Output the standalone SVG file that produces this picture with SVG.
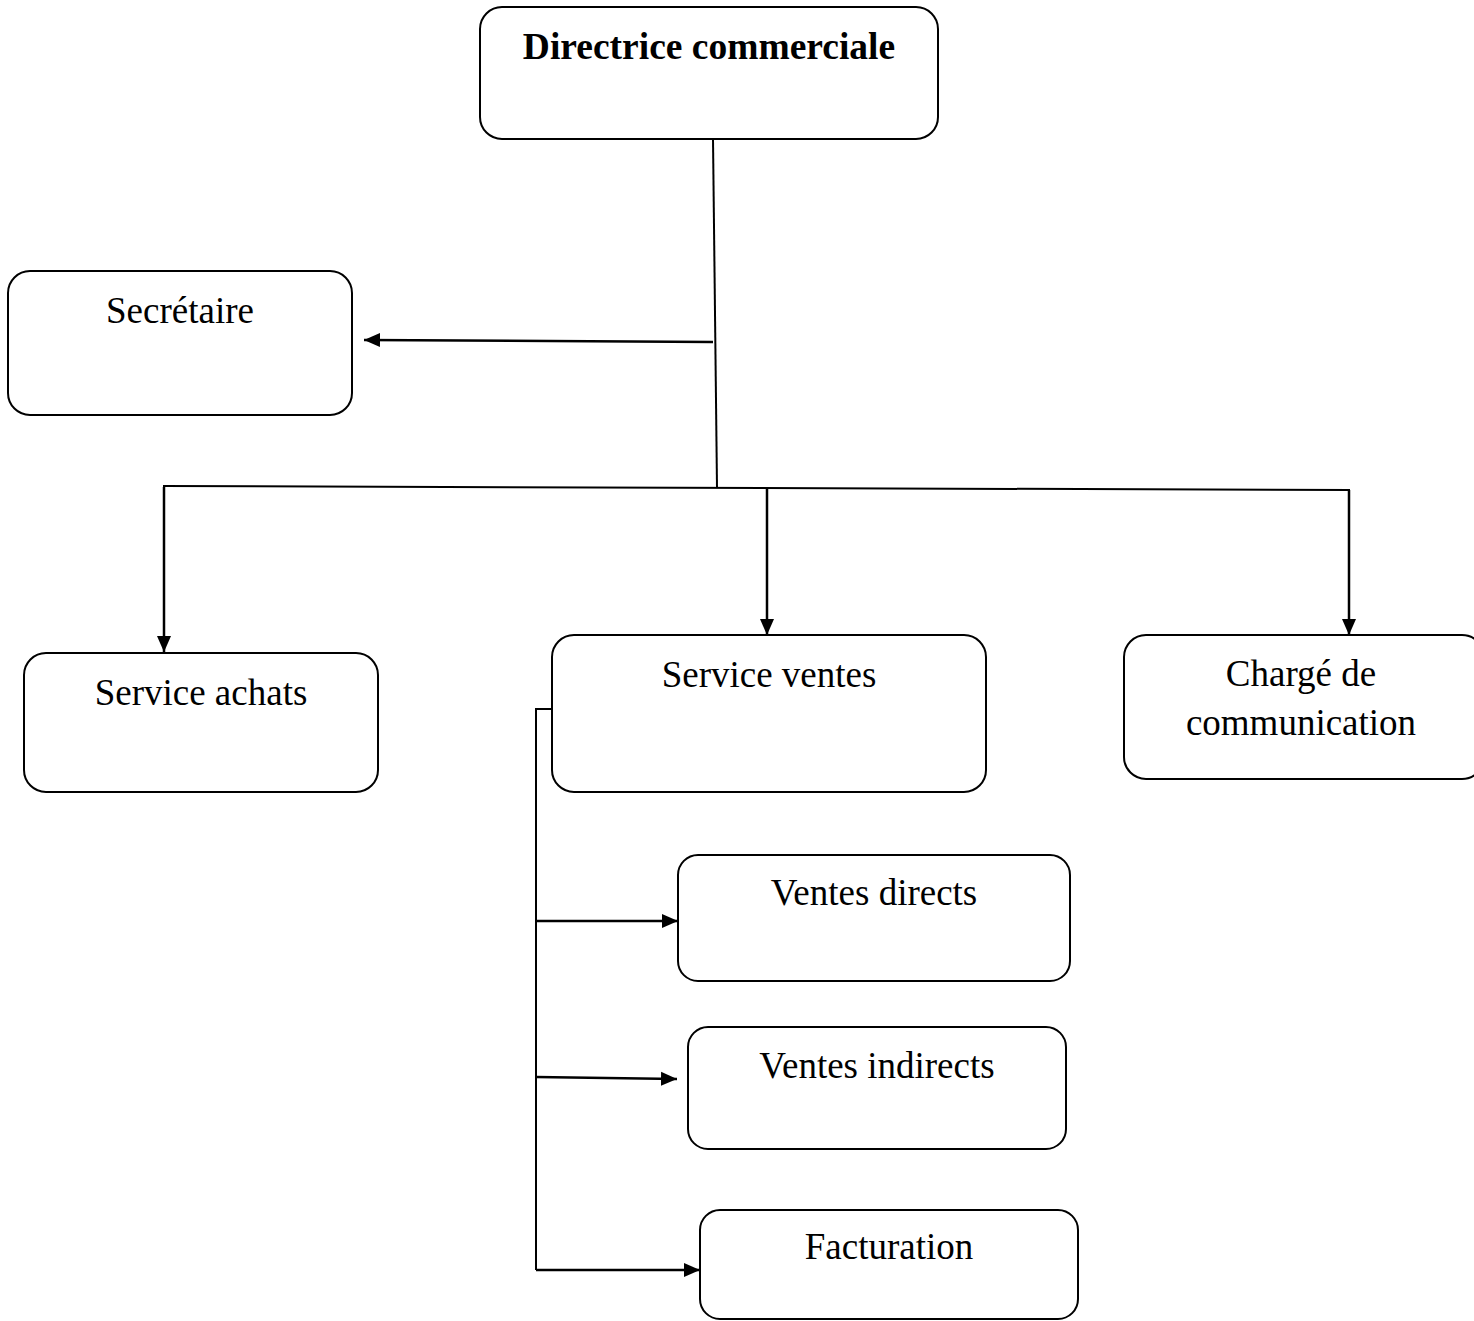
<svg xmlns="http://www.w3.org/2000/svg" width="1474" height="1321" viewBox="0 0 1474 1321">
<style>
.box{fill:#fff;stroke:#000;stroke-width:2}
.t{font-family:"Liberation Serif","Times New Roman",serif;font-size:37px;fill:#000;text-anchor:middle}
.b{font-weight:bold;font-size:37.5px}
.ln{fill:none;stroke:#000;stroke-width:2}
.ar{fill:none;stroke:#000;stroke-width:2.5;marker-end:url(#ah)}
</style>
<defs>
<marker id="ah" markerUnits="userSpaceOnUse" markerWidth="18" markerHeight="16" refX="16" refY="8" orient="auto">
<path d="M0,1 L16,8 L0,15 z" fill="#000"/>
</marker>
</defs>
<rect width="1474" height="1321" fill="#fff"/>
<g id="connectors">
<line class="ln" x1="713" y1="139" x2="717" y2="487"/>
<line class="ar" x1="713" y1="342" x2="364" y2="340"/>
<line class="ln" x1="163" y1="486" x2="1350" y2="490"/>
<line class="ar" x1="164" y1="487" x2="164" y2="652"/>
<line class="ar" x1="767" y1="489" x2="767" y2="635"/>
<line class="ar" x1="1349" y1="490" x2="1349" y2="635"/>
<polyline class="ln" points="552,709 536,709 536,1270"/>
<line class="ar" x1="536" y1="921" x2="678" y2="921"/>
<line class="ar" x1="536" y1="1077" x2="677" y2="1079"/>
<line class="ar" x1="536" y1="1270" x2="700" y2="1270"/>
</g>
<g id="n-directrice">
<rect class="box" x="480" y="7" width="458" height="132" rx="22"/>
<text class="t b" x="709" y="59">Directrice commerciale</text>
</g>
<g id="n-secretaire">
<rect class="box" x="8" y="271" width="344" height="144" rx="22"/>
<text class="t" x="180" y="323">Secrétaire</text>
</g>
<g id="n-achats">
<rect class="box" x="24" y="653" width="354" height="139" rx="22"/>
<text class="t" x="201" y="705">Service achats</text>
</g>
<g id="n-ventes">
<rect class="box" x="552" y="635" width="434" height="157" rx="22"/>
<text class="t" x="769" y="687">Service ventes</text>
</g>
<g id="n-communication">
<rect class="box" x="1124" y="635" width="360" height="144" rx="22"/>
<text class="t" x="1301" y="686">Chargé de</text>
<text class="t" x="1301" y="735">communication</text>
</g>
<g id="n-directs">
<rect class="box" x="678" y="855" width="392" height="126" rx="20"/>
<text class="t" x="874" y="905">Ventes directs</text>
</g>
<g id="n-indirects">
<rect class="box" x="688" y="1027" width="378" height="122" rx="20"/>
<text class="t" x="877" y="1078">Ventes indirects</text>
</g>
<g id="n-facturation">
<rect class="box" x="700" y="1210" width="378" height="109" rx="20"/>
<text class="t" x="889" y="1259">Facturation</text>
</g>
</svg>
